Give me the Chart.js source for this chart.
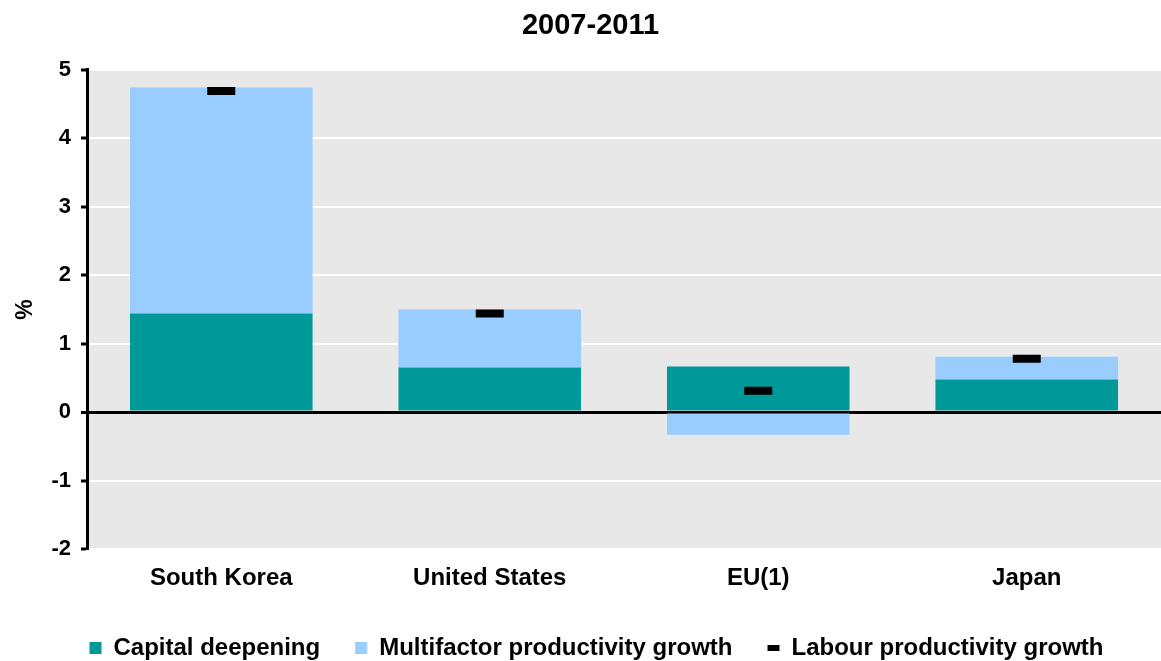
<!DOCTYPE html>
<html>
<head>
<meta charset="utf-8">
<script src="https://cdn.jsdelivr.net/npm/chart.js@4/dist/chart.umd.min.js"></script>
<style>
  html, body { margin: 0; padding: 0; background: #fff; }
  #wrap { width: 1161px; height: 661px; }
</style>
</head>
<body>
<div id="wrap"><canvas id="prod"></canvas></div>
<script>
// Chart data
const countries = ['South Korea', 'United States', 'EU(1)', 'Japan']
const capitalDeepening = [1.44, 0.65, 0.665, 0.475]
const multifactor = [3.30, 0.85, -0.33, 0.335]
const labourProductivity = [4.69, 1.44, 0.31, 0.78]
const yTicks = [5, 4, 3, 2, 1, 0, -1, -2]

const FONT = '"Liberation Sans", Arial, sans-serif'

// Grey plot background
const plotBg = {
  id: 'plotBg',
  beforeDraw (chart) {
    const { ctx, chartArea: a } = chart
    ctx.save()
    ctx.fillStyle = '#e8e8e8'
    ctx.fillRect(a.left, a.top, a.right - a.left, a.bottom - a.top)
    ctx.restore()
  }
}

// Nudge title and legend a bit to the right, like the original
const nudge = {
  id: 'nudge',
  afterLayout (chart) {
    const t = chart.titleBlock
    if (t) { t.left += 10; t.right += 10 }
    const l = chart.legend
    if (l) { l.left += 16; l.right += 16; l.top += 3; l.bottom += 3 }
  }
}

const ctx = document.getElementById('prod')

new Chart(ctx, {
  data: {
    labels: countries,
    datasets: [
      {
        type: 'line',
        label: 'Labour productivity growth',
        data: labourProductivity,
        showLine: false,
        pointStyle: 'line',
        pointRadius: 14,
        pointHoverRadius: 14,
        pointBorderWidth: 8,
        borderColor: '#000',
        backgroundColor: '#000',
        order: 0
      },
      {
        type: 'bar',
        label: 'Capital deepening',
        data: capitalDeepening,
        backgroundColor: '#009999',
        stack: 's',
        order: 1
      },
      {
        type: 'bar',
        label: 'Multifactor productivity growth',
        data: multifactor,
        backgroundColor: '#99ccff',
        stack: 's',
        order: 2
      }
    ]
  },
  options: {
    responsive: true,
    maintainAspectRatio: false,
    animation: false,
    layout: { autoPadding: false, padding: { top: 2, right: 0, bottom: 0, left: 0 } },
    datasets: {
      bar: { categoryPercentage: 1, barPercentage: 0.68 }
    },
    plugins: {
      title: {
        display: true,
        text: '2007-2011',
        color: '#000',
        font: { family: FONT, size: 29, weight: 'bold' },
        padding: { top: 7, bottom: 26 }
      },
      legend: {
        position: 'bottom',
        maxHeight: 63,
        labels: {
          color: '#000',
          font: { family: FONT, size: 24, weight: 'bold' },
          usePointStyle: true,
          pointStyleWidth: 12,
          boxHeight: 12,
          padding: 35,
          sort: (a, b) => a.datasetIndex === 0 ? 1 : (b.datasetIndex === 0 ? -1 : a.datasetIndex - b.datasetIndex),
          generateLabels (chart) {
            return chart.data.datasets.map((ds, i) => ({
              text: ds.label,
              fillStyle: ds.backgroundColor,
              strokeStyle: ds.type === 'line' ? '#000' : ds.backgroundColor,
              lineWidth: ds.type === 'line' ? 6 : 0,
              pointStyle: ds.type === 'line' ? 'line' : 'rect',
              fontColor: '#000',
              datasetIndex: i
            }))
          }
        }
      },
      tooltip: { enabled: false }
    },
    scales: {
      x: {
        stacked: true,
        afterFit (scale) { scale.height = 49 },
        grid: { display: false, drawTicks: false },
        border: { display: false },
        ticks: {
          color: '#000',
          font: { family: FONT, size: 24, weight: 'bold' },
          padding: 15
        }
      },
      y: {
        stacked: true,
        min: -2,
        max: 5,
        afterFit (scale) { scale.width = 87 },
        afterBuildTicks (scale) { scale.ticks = yTicks.map(v => ({ value: v })) },
        title: {
          display: true,
          text: '%',
          color: '#000',
          font: { family: FONT, size: 23, weight: 'bold' },
          padding: { top: 12, bottom: 0 }
        },
        border: { display: true, color: '#000', width: 3 },
        grid: {
          color: c => c.tick && c.tick.value === 0 ? '#000' : '#fff',
          lineWidth: c => c.tick && c.tick.value === 0 ? 3 : 2,
          tickColor: '#000',
          tickWidth: 3,
          tickLength: 6
        },
        ticks: {
          color: '#000',
          font: { family: FONT, size: 22, weight: 'bold' },
          padding: 10
        }
      }
    }
  },
  plugins: [plotBg, nudge]
})
</script>
</body>
</html>
